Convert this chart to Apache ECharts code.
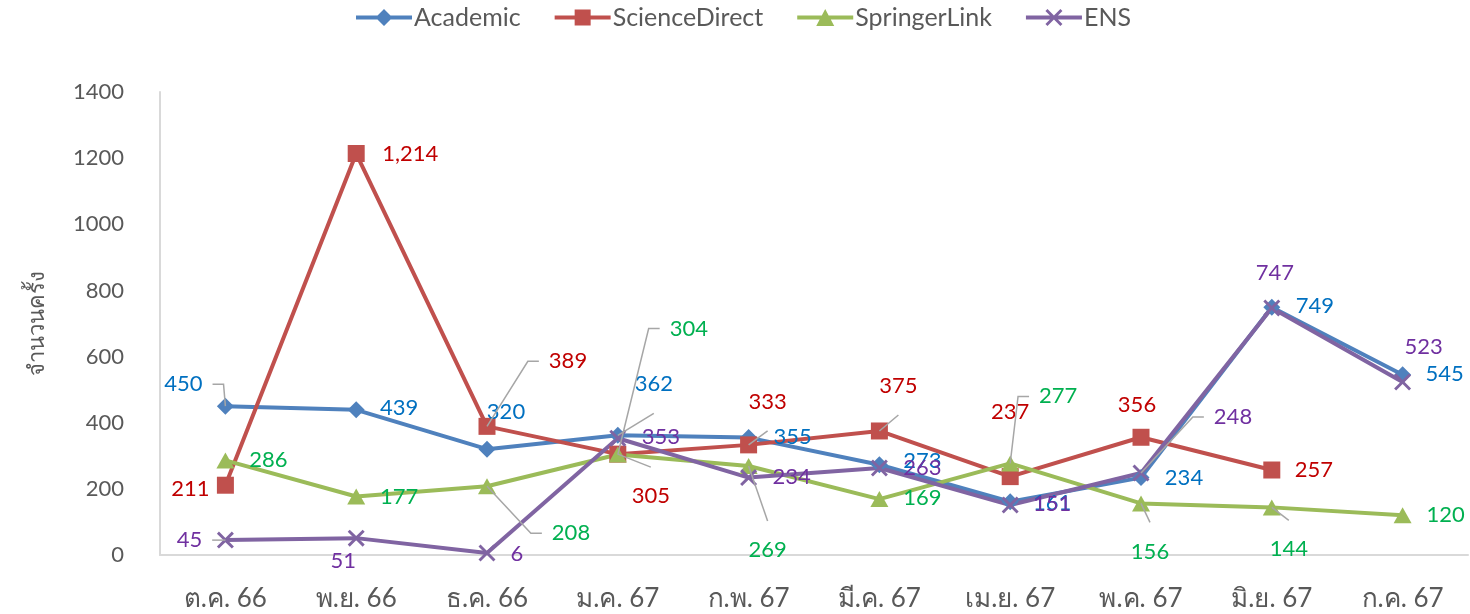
<!DOCTYPE html>
<html><head><meta charset="utf-8">
<script src="https://cdn.jsdelivr.net/npm/echarts@6/dist/echarts.min.js"></script>
<style>html,body{margin:0;padding:0;background:#fff}#c{width:1470px;height:614px}</style>
</head><body><div id="c"></div>
<script>
// ---- data ----
const categories = ['ต.ค. 66','พ.ย. 66','ธ.ค. 66','ม.ค. 67','ก.พ. 67','มี.ค. 67','เม.ย. 67','พ.ค. 67','มิ.ย. 67','ก.ค. 67'];
const seriesNames = ['Academic','ScienceDirect','SpringerLink','ENS'];
const academic      = [450, 439, 320, 362, 355, 273, 161, 234, 749, 545];
const scienceDirect = [211, 1214, 389, 305, 333, 375, 237, 356, 257, null];
const springerLink  = [286, 177, 208, 304, 269, 169, 277, 156, 144, 120];
const ens           = [45, 51, 6, 353, 234, 263, 151, 248, 747, 523];
const yTicks = {min: 0, max: 1400, interval: 200};

// ---- label layout (label centre offset from its point, px; optional leader type) ----
const labelPlace = {
  Academic:      [[-42,-22,'side'],[43,-2],[19,-37],[36,-51,'v'],[44,-1],[43,-4],[42,1],[43,0],[43,-1],[42,-1]],
  ScienceDirect: [[-35,4],[54,0],[81,-65,'side'],[33,42,'v'],[19,-43,'v'],[19,-45,'v'],[0,-65],[-4,-32],[42,0],[0,0]],
  SpringerLink:  [[43,-1],[43,0],[84,47,'side'],[71,-126,'side'],[19,84,'v'],[43,-1],[48,-67,'side'],[9,48,'v'],[17,42,'v'],[43,0]],
  ENS:           [[-36,0,'side'],[-13,23],[30,1],[43,-1],[43,-1],[43,0],[42,-1],[92,-56,'side'],[3,-35],[21,-35]]
};

const lineColors  = {Academic:'#4F81BD', ScienceDirect:'#C0504D', SpringerLink:'#9BBB59', ENS:'#8064A2'};
const labelColors = {Academic:'#0070C0', ScienceDirect:'#C00000', SpringerLink:'#00B050', ENS:'#7030A0'};
const symbols = {
  Academic: ['diamond', [17,17]],
  ScienceDirect: ['rect', [17,17]],
  SpringerLink: ['triangle', [18,16]],
  ENS: ['path://M0,1.2L1.2,0L5,3.8L8.8,0L10,1.2L6.2,5L10,8.8L8.8,10L5,6.2L1.2,10L0,8.8L3.8,5Z', [17,17]]
};
// legend icons: line segment + marker, drawn in a 56x17 box
const BAR = 'M0,6.5L56,6.5L56,10.5L0,10.5Z';
const legendIcons = {
  Academic: 'path://' + BAR + 'M28,0L36.5,8.5L28,17L19.5,8.5Z',
  ScienceDirect: 'path://' + BAR + 'M20,0.5L36,0.5L36,16.5L20,16.5Z',
  SpringerLink: 'path://' + BAR + 'M28,0L37,17L19,17Z',
  ENS: 'path://' + BAR + 'M19.5,2.04L21.54,0L28,6.46L34.46,0L36.5,2.04L30.04,8.5L36.5,14.96L34.46,17L28,10.54L21.54,17L19.5,14.96L25.96,8.5Z'
};
const values = {Academic: academic, ScienceDirect: scienceDirect, SpringerLink: springerLink, ENS: ens};

const FONT = 'Lato, "Noto Sans", sans-serif';
const LABEL_SIZE = 22;
const fmt = v => (v == null ? '' : Number(v).toLocaleString('en-US'));

const ctx = document.createElement('canvas').getContext('2d');
ctx.font = LABEL_SIZE + 'px ' + FONT;
const textW = t => ctx.measureText(t).width;

const lineSeries = seriesNames.map(name => ({
  name,
  type: 'line',
  data: values[name].map((v, i) => v == null ? null : ({
    value: v,
    label: {offset: [labelPlace[name][i][0], labelPlace[name][i][1]]}
  })),
  connectNulls: false,
  symbol: symbols[name][0],
  symbolSize: symbols[name][1],
  showAllSymbol: true,
  lineStyle: {width: 4, color: lineColors[name]},
  itemStyle: {color: lineColors[name]},
  label: {
    show: true, position: 'inside', align: 'center', verticalAlign: 'middle',
    color: labelColors[name], fontSize: LABEL_SIZE, fontFamily: FONT,
    formatter: p => fmt(p.value)
  },
  emphasis: {disabled: true},
  z: 2
}));

// leader lines
const leaders = [];
seriesNames.forEach(name => {
  values[name].forEach((v, i) => {
    const pl = labelPlace[name][i];
    if (v != null && pl[2]) leaders.push({i, v, dx: pl[0], dy: pl[1], type: pl[2], w: textW(fmt(v))});
  });
});

const leaderSeries = {
  type: 'custom',
  coordinateSystem: 'cartesian2d',
  silent: true,
  z: 5,
  encode: {x: 0, y: 1},
  data: leaders.map(l => [l.i, l.v]),
  renderItem: (params, api) => {
    const l = leaders[params.dataIndex];
    const P = api.coord([api.value(0), api.value(1)]);
    const L = [P[0] + l.dx, P[1] + l.dy];
    let pts;
    if (l.type === 'side') {
      const dir = l.dx > 0 ? 1 : -1;
      const edgeX = L[0] - dir * (l.w / 2 + 10);
      const elbowX = edgeX - dir * 11;
      pts = [P, [elbowX, L[1]], [edgeX, L[1]]];
    } else {
      const s = l.dy > 0 ? 1 : -1;
      pts = [P, [L[0], L[1] - s * 29]];
    }
    return {type: 'polyline', shape: {points: pts}, style: {stroke: '#A6A6A6', lineWidth: 1.5, fill: null}};
  }
};

const chart = echarts.init(document.getElementById('c'));
chart.setOption({
  animation: false,
  backgroundColor: '#ffffff',
  textStyle: {fontFamily: FONT},
  legend: {
    data: seriesNames.map(n => ({name: n, icon: legendIcons[n], itemStyle: {color: lineColors[n]}})),
    left: 356, top: 5,
    itemWidth: 56, itemHeight: 17, itemGap: 34,
    padding: 0,
    textStyle: {fontSize: 25, color: '#595959', fontFamily: FONT, padding: [0, 0, 0, -3]}
  },
  grid: {left: 160, right: 2, top: 92, bottom: 59, containLabel: false},
  xAxis: {
    type: 'category',
    data: categories,
    boundaryGap: true,
    axisLine: {show: true, lineStyle: {color: '#D9D9D9', width: 2}},
    axisTick: {show: false},
    axisLabel: {fontSize: 26, color: '#595959', margin: 31, fontFamily: FONT},
    splitLine: {show: false}
  },
  yAxis: {
    type: 'value',
    min: yTicks.min, max: yTicks.max, interval: yTicks.interval,
    name: 'จำนวนครั้ง',
    nameLocation: 'middle', nameRotate: 90, nameGap: 112,
    nameTextStyle: {fontSize: 22, color: '#595959', fontFamily: FONT},
    axisLine: {show: true, lineStyle: {color: '#D9D9D9', width: 2}},
    axisTick: {show: false},
    axisLabel: {fontSize: 22, color: '#595959', margin: 36, fontFamily: FONT, formatter: v => String(v)},
    splitLine: {show: false}
  },
  series: [...lineSeries, leaderSeries]
});
</script></body></html>
